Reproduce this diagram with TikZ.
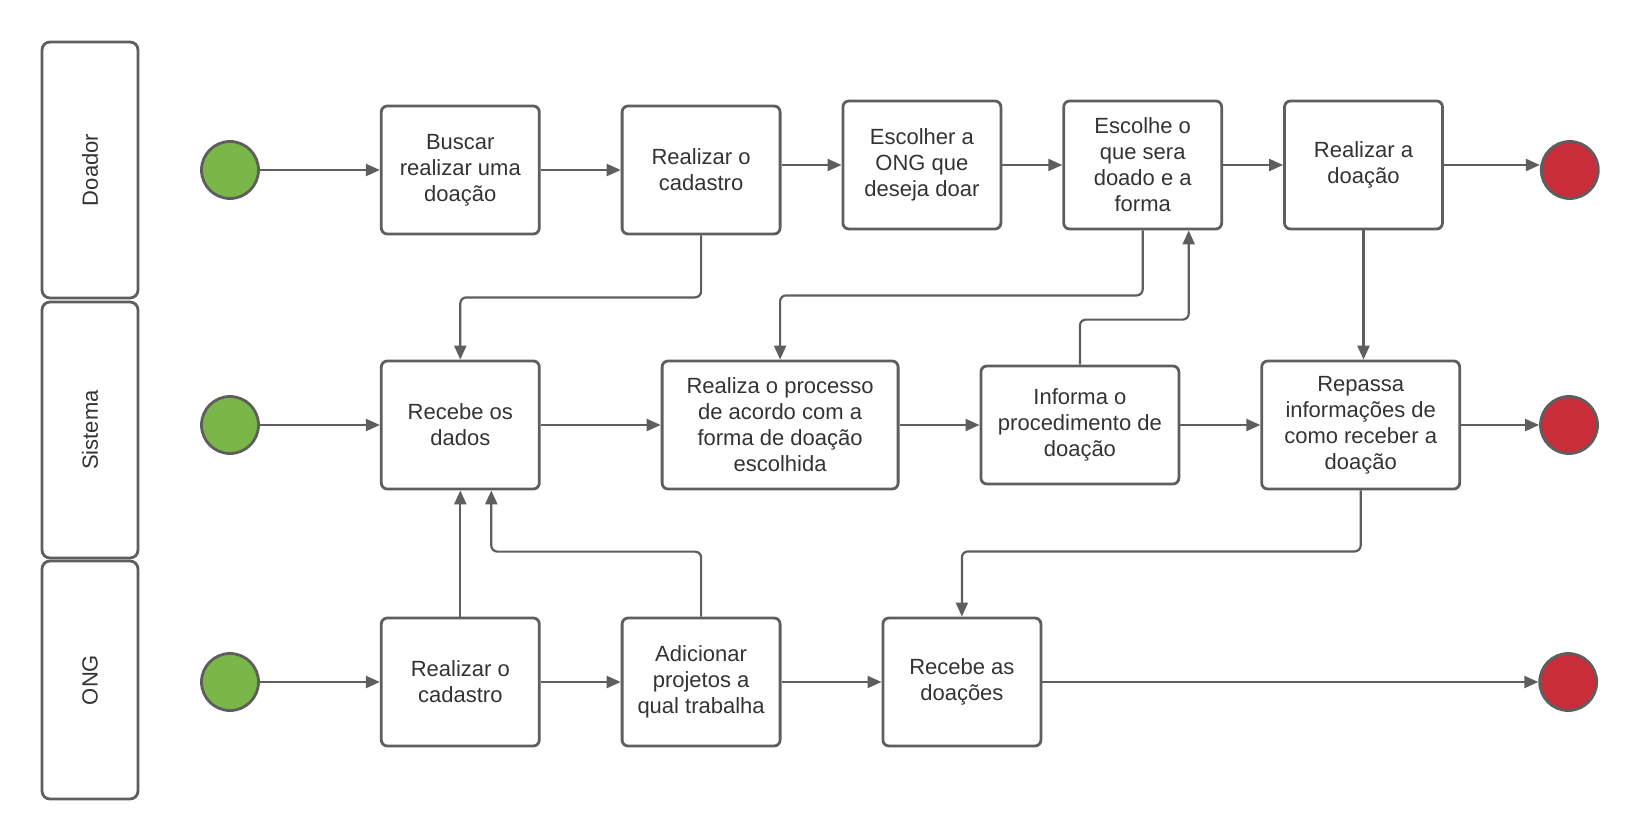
\documentclass[tikz,border=0pt]{standalone}
\usepackage{fontspec}
\setmainfont{Liberation Sans}
\usetikzlibrary{arrows.meta}
\usepackage{xcolor}
\definecolor{linegray}{HTML}{5E5E5E}
\definecolor{textgray}{HTML}{333333}
\definecolor{startgreen}{HTML}{7AB648}
\definecolor{endred}{HTML}{C92D39}

\begin{document}
\begin{tikzpicture}[x=0.5pt,y=-0.5pt,line width=1.1pt,color=linegray,text=textgray,
  >={Triangle[length=7pt,width=6pt]},font=\fontsize{11}{13}\selectfont,
  box/.style={rectangle,rounded corners=3pt,draw,line width=1.4pt,minimum width=79pt,minimum height=64pt,align=center,inner sep=2pt},
  startc/.style={circle,draw,line width=1.4pt,minimum size=28.5pt,fill=startgreen},
  endc/.style={circle,draw,line width=1.4pt,minimum size=28.5pt,fill=endred},
  lane/.style={rectangle,rounded corners=4pt,draw,line width=1.4pt,minimum height=48pt,rotate=90}]
\useasboundingbox (0,0) rectangle (1640,840);

% raias
\node [lane,minimum width=128pt] (doador) at (90,170) {Doador};
\node [lane,minimum width=128pt] (sistema) at (90,430) {Sistema};
\node [lane,minimum width=119pt] (ong) at (90,680) {ONG};

% Doador
\node [startc] (start1) at (230,170) {};
\node [box,right=60pt,at=(start1.east)] (buscar) {Buscar\\realizar uma\\doação};
\node [box,right=40pt,at=(buscar.east)] (cadastro1) {Realizar o\\cadastro};
\node [box,right=30pt,at=(cadastro1.east),yshift=2.5pt] (escolher) {Escolher a\\ONG que\\deseja doar};
\node [box,right=30pt,at=(escolher.east)] (escolhe) {Escolhe o\\que sera\\doado e a\\forma};
\node [box,right=30pt,at=(escolhe.east)] (doar) {Realizar a\\doação};
\node [endc,right=48pt,at=(doar.east),yshift=-2.5pt] (end1) {};

% Sistema
\node [startc] (start2) at (230,425) {};
\node [box,right=60pt,at=(start2.east)] (recebe) {Recebe os\\dados};
\node [box,right=60pt,at=(recebe.east),minimum width=118pt] (processo) {Realiza o processo\\de acordo com a\\forma de doação\\escolhida};
\node [box,right=40pt,at=(processo.east),minimum width=99pt,minimum height=59pt] (informa) {Informa o\\procedimento de\\doação};
\node [box,right=40pt,at=(informa.east),minimum width=99pt] (repassa) {Repassa\\informações de\\como receber a\\doação};
\node [endc,right=39pt,at=(repassa.east)] (end2) {};

% ONG
\node [startc] (start3) at (230,682) {};
\node [box,right=60pt,at=(start3.east)] (cadastro2) {Realizar o\\cadastro};
\node [box,right=40pt,at=(cadastro2.east)] (projetos) {Adicionar\\projetos a\\qual trabalha};
\node [box,right=50pt,at=(projetos.east)] (doacoes) {Recebe as\\doações};
\node [endc,right=248pt,at=(doacoes.east)] (end3) {};

\draw [->] (start1) -- (buscar);
\draw [->] (buscar) -- (cadastro1);
\draw [->] (cadastro1.east |- escolher.west) -- (escolher.west);
\draw [->] (escolher) -- (escolhe);
\draw [->] (escolhe) -- (doar);
\draw [->] (doar.east) -- (doar.east -| end1.west);

\draw [->] (start2) -- (recebe);
\draw [->] (recebe) -- (processo);
\draw [->] (processo) -- (informa);
\draw [->] (informa) -- (repassa);
\draw [->] (repassa) -- (end2);

\draw [->] (start3) -- (cadastro2);
\draw [->] (cadastro2) -- (projetos);
\draw [->] (projetos) -- (doacoes);
\draw [->] (doacoes) -- (end3);

\draw [->,rounded corners=3pt] (cadastro1.south) -- ++(0,62) -| (recebe.north);
\draw [->,rounded corners=3pt] (escolhe.south) -- ++(0,65) -| (processo.north);
\draw [->,rounded corners=3pt] (informa.north) -- ++(0,-45) -| ([xshift=23pt]escolhe.south);
\draw [->] (doar.south) -- (doar.south |- repassa.north);
\draw [->,rounded corners=3pt] (repassa.south) -- ++(0,61) -| (doacoes.north);
\draw [->] (cadastro2.north) -- (recebe.south);
\draw [->,rounded corners=3pt] (projetos.north) -- ++(0,-65) -| ([xshift=15.5pt]recebe.south);
\end{tikzpicture}
\end{document}
